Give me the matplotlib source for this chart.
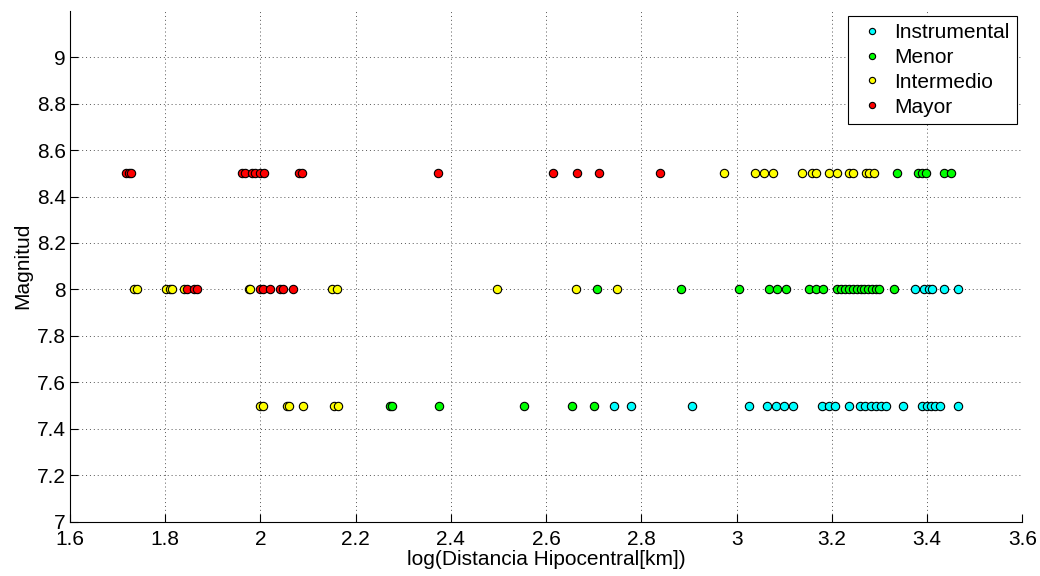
import matplotlib
matplotlib.use("Agg")
import matplotlib.pyplot as plt
from matplotlib.ticker import FixedLocator

plt.rcParams['font.family'] = ['Liberation Sans', 'DejaVu Sans']

# log10 hypocentral distance (km) and magnitude for each event class
instrumental_x = [2.743, 2.779, 2.907, 3.025, 3.064, 3.083, 3.100, 3.118, 3.179, 3.193,
                  3.207, 3.235, 3.260, 3.270, 3.282, 3.293, 3.304, 3.314, 3.349, 3.389,
                  3.400, 3.409, 3.417, 3.427, 3.465,
                  3.375, 3.393, 3.404, 3.411, 3.435, 3.465]
instrumental_m = [7.5] * 25 + [8.0] * 6

menor_x = [2.272, 2.276, 2.374, 2.553, 2.655, 2.700,
           2.707, 2.883, 3.006, 3.067, 3.085, 3.103, 3.151, 3.166, 3.182,
           3.211, 3.220, 3.228, 3.236, 3.244, 3.252, 3.261, 3.268, 3.276, 3.284,
           3.292, 3.300, 3.331,
           3.337, 3.380, 3.389, 3.398, 3.435, 3.451]
menor_m = [7.5] * 6 + [8.0] * 22 + [8.5] * 6

intermedio_x = [2.000, 2.005, 2.055, 2.060, 2.090, 2.154, 2.163,
                1.735, 1.740, 1.802, 1.809, 1.815, 1.839, 1.975, 1.979, 2.151,
                2.161, 2.497, 2.662, 2.749,
                2.974, 3.039, 3.058, 3.077, 3.137, 3.158, 3.166, 3.194, 3.210,
                3.237, 3.244, 3.272, 3.277, 3.288]
intermedio_m = [7.5] * 7 + [8.0] * 13 + [8.5] * 14

mayor_x = [1.846, 1.860, 1.867, 2.000, 2.006, 2.021, 2.042, 2.047, 2.068,
           1.717, 1.723, 1.728, 1.961, 1.967, 1.982, 1.988, 2.000, 2.008,
           2.081, 2.087, 2.372, 2.615, 2.665, 2.710, 2.839]
mayor_m = [8.0] * 9 + [8.5] * 16

classes = ["Instrumental", "Menor", "Intermedio", "Mayor"]
colors = ["#00ffff", "#00ff00", "#ffff00", "#ff0000"]
series = [(instrumental_x, instrumental_m), (menor_x, menor_m),
          (intermedio_x, intermedio_m), (mayor_x, mayor_m)]

x_ticks = [1.6, 1.8, 2.0, 2.2, 2.4, 2.6, 2.8, 3.0, 3.2, 3.4, 3.6]
x_labels = ["1.6", "1.8", "2", "2.2", "2.4", "2.6", "2.8", "3", "3.2", "3.4", "3.6"]
y_ticks = [7.0, 7.2, 7.4, 7.6, 7.8, 8.0, 8.2, 8.4, 8.6, 8.8, 9.0]
y_labels = ["7", "7.2", "7.4", "7.6", "7.8", "8", "8.2", "8.4", "8.6", "8.8", "9"]

FS = 15

fig = plt.figure(figsize=(10.4, 5.76), dpi=100)
ax = fig.add_axes([0.0673, 0.0943, 0.9157, 0.8871])

for (xs, ms), name, col in zip(series, classes, colors):
    ax.plot(xs, ms, linestyle="none", marker="o", markersize=6,
            markerfacecolor=col, markeredgecolor="black", markeredgewidth=0.8,
            label=name)

ax.set_xlim(1.6, 3.6)
ax.set_ylim(7.0, 9.2)
ax.xaxis.set_major_locator(FixedLocator(x_ticks))
ax.yaxis.set_major_locator(FixedLocator(y_ticks))
ax.set_xticklabels(x_labels)
ax.set_yticklabels(y_labels)

ax.grid(True, linestyle=(0, (1, 3)), color="#555555", linewidth=0.7)
ax.spines["top"].set_visible(False)
ax.spines["right"].set_visible(False)
for s in ("left", "bottom"):
    ax.spines[s].set_linewidth(0.8)
ax.tick_params(direction="in", length=6, width=0.8, labelsize=FS, colors="black")
ax.tick_params(axis="x", pad=6)
ax.tick_params(axis="y", pad=3)

ax.set_xlabel("log(Distancia Hipocentral[km])", fontsize=FS, labelpad=1)
ax.set_ylabel("Magnitud", fontsize=FS, labelpad=3)

leg = ax.legend(loc="upper right", bbox_to_anchor=(0.994, 0.99), borderaxespad=0,
                fontsize=FS, markerscale=0.75, handletextpad=0.25,
                labelspacing=0.28, borderpad=0.35, handlelength=1.6,
                fancybox=False, framealpha=1, edgecolor="black")
leg.get_frame().set_linewidth(0.8)

fig.savefig("out.png", dpi=100)
